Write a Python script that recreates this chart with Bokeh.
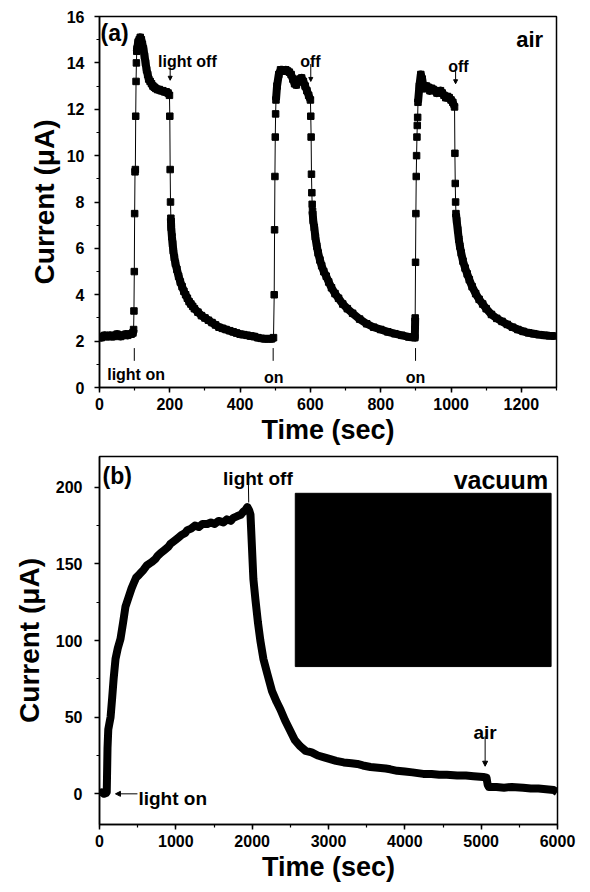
from bokeh.plotting import figure
from bokeh.models import Range1d, SingleIntervalTicker, Label, Arrow, NormalHead, ColumnDataSource
from bokeh.layouts import column
from bokeh.embed import file_html
from bokeh.resources import INLINE

# ---------------- Panel (a): air ----------------
time_a = [0, 5, 10, 15, 20, 25, 30, 35, 40, 45, 50, 55, 60, 65, 70, 75, 80, 85, 90, 95,
          97, 98, 99, 100, 101, 102, 103, 104, 105, 106,
          107, 110, 113, 116, 119, 122, 125, 128, 131, 134, 137, 140, 144, 148, 152, 156, 160,
          165, 170, 175, 180, 185, 190, 195, 199,
          200, 201, 202, 203, 204, 206, 208, 210, 213, 216, 220, 225, 230, 235, 240, 245, 250,
          255, 260, 265, 270, 280, 290, 300, 310, 320, 330, 340, 350, 360, 370, 380, 390, 400,
          410, 420, 430, 440, 450, 460, 470, 480, 490, 495,
          497, 498, 499, 500, 501, 502,
          505, 510, 515, 520, 525, 530, 535, 540, 545, 550, 555, 560, 565, 570, 575, 580, 585,
          590, 595, 600,
          601, 602, 603, 604, 605, 606, 608, 611, 614, 618, 622, 627, 632, 638, 645, 652, 660,
          670, 680, 692, 705, 720, 740, 760, 780, 800, 820, 840, 860, 880, 897,
          898, 899, 900, 901, 902, 903, 904, 905, 906,
          910, 914, 918, 922, 926, 930, 935, 940, 945, 950, 955, 960, 965, 970, 975, 980, 985,
          990, 995, 1000, 1005, 1010,
          1011, 1012, 1013, 1014, 1016, 1019, 1022, 1025, 1029, 1034, 1040, 1046, 1052, 1060,
          1070, 1080, 1090, 1100, 1115, 1130, 1145, 1160, 1175, 1190, 1205, 1220, 1235, 1250,
          1265, 1280, 1295]
current_a = [2.2, 2.15, 2.2, 2.25, 2.2, 2.2, 2.25, 2.2, 2.2, 2.25, 2.3, 2.25, 2.2, 2.25, 2.25, 2.3, 2.25, 2.3, 2.3, 2.35,
             2.5, 3.3, 5.0, 7.5, 9.3, 9.4, 11.7, 13.2, 14.0, 14.5,
             14.6, 14.9, 15.0, 15.1, 15.0, 14.8, 14.6, 14.3, 14.0, 13.7, 13.5, 13.3, 13.2, 13.1, 13.0, 12.95, 12.9,
             12.85, 12.85, 12.8, 12.8, 12.75, 12.75, 12.7, 12.6,
             11.7, 9.4, 8.0, 7.3, 6.9, 6.5, 6.2, 5.9, 5.6, 5.35, 5.1, 4.8, 4.55, 4.35, 4.15, 4.0, 3.85,
             3.7, 3.6, 3.5, 3.4, 3.25, 3.1, 3.0, 2.9, 2.8, 2.7, 2.6, 2.55, 2.5, 2.45, 2.4, 2.35, 2.3,
             2.28, 2.25, 2.22, 2.2, 2.15, 2.12, 2.1, 2.1, 2.1, 2.15,
             4.0, 6.8, 9.1, 10.8, 11.8, 12.4,
             13.0, 13.5, 13.7, 13.7, 13.65, 13.7, 13.65, 13.6, 13.5, 13.3, 13.1, 13.05, 13.2, 13.3, 13.35, 13.2, 13.0,
             12.8, 12.6, 12.4,
             11.7, 10.8, 9.2, 8.4, 7.9, 7.6, 7.2, 6.9, 6.5, 6.1, 5.8, 5.5, 5.25, 5.0, 4.8, 4.55, 4.3,
             4.05, 3.85, 3.6, 3.4, 3.2, 2.95, 2.75, 2.6, 2.5, 2.4, 2.32, 2.25, 2.18, 2.15,
             3.0, 5.4, 7.5, 9.1, 10.0, 10.8, 11.3, 11.65, 12.3,
             13.0, 13.5, 13.3, 12.9, 12.9, 13.0, 12.95, 12.8, 12.9, 12.85, 12.8, 12.7, 12.75, 12.8, 12.7, 12.6, 12.5,
             12.55, 12.5, 12.4, 12.3, 12.1,
             10.1, 8.8, 8.0, 7.5, 7.2, 6.8, 6.4, 6.1, 5.8, 5.45, 5.15, 4.9, 4.65, 4.35,
             4.05, 3.8, 3.6, 3.4, 3.15, 2.98, 2.85, 2.72, 2.6, 2.5, 2.42, 2.36, 2.32, 2.28,
             2.25, 2.23, 2.22]
# time windows where the instrument sampled densely (points merge into a band)
dense_windows_a = [(0, 97), (106, 199), (203, 496), (502, 600), (606, 898), (906, 1010), (1014, 1300)]

# ---------------- Panel (b): vacuum ----------------
time_b = [0, 30, 60, 85, 95, 105, 115, 130, 145, 165, 185, 210, 240, 275, 310, 340, 380, 420, 445,
          480, 520, 576, 620, 680, 730, 759, 800, 850, 900, 929, 980, 1030, 1080, 1120, 1152, 1200,
          1250, 1300, 1350, 1413, 1460, 1510, 1560, 1623, 1670, 1720, 1754, 1800, 1850, 1885, 1910,
          1937, 1960, 1978, 2016, 2042, 2075, 2107, 2147, 2200, 2260, 2320, 2370, 2430, 2500, 2560,
          2630, 2700, 2780, 2860, 2932, 3000, 3100, 3200, 3300, 3377, 3450, 3550, 3650, 3750, 3809,
          3900, 4000, 4100, 4241, 4350, 4450, 4550, 4686, 4800, 4900, 5026, 5070, 5085, 5100, 5200,
          5300, 5400, 5550, 5650, 5750, 5850, 5950, 5995]
current_b = [0, 1, 0, 0.5, 1, 30, 42, 46, 50, 62, 75, 88, 95, 101, 112, 122, 128, 134, 137,
             141, 143, 146, 149, 151, 153, 155, 157, 159, 161, 163, 165, 167, 169, 170, 172, 173,
             175, 174, 176, 176, 177, 176, 178, 177, 179, 178, 180, 181, 182, 184, 185,
             187, 185, 182, 140, 127, 112, 100, 88, 78, 67, 60, 55, 48, 41, 35,
             31, 28, 27, 25, 24, 23, 21.5, 20.5, 20, 19.5, 18.5, 17.5, 17, 16.5, 16,
             15, 14.5, 14, 13, 13, 12.5, 12.5, 12, 12, 11.5, 11, 10.5, 6, 4.5, 4.5,
             4, 4.5, 4, 3.5, 3.5, 3, 2.5, 1]

# inset picture (black) extents in data units of panel (b)
inset_left = [2565]
inset_right = [5916]
inset_bottom = [83]
inset_top = [196]

FONT = "Liberation Sans"


def style_axes(p, xint, yint, ylab_standoff, ylabel_standoff):
    for ax in (p.xaxis[0], p.yaxis[0]):
        ax.axis_line_width = 1.5
        ax.axis_line_color = "black"
        ax.major_tick_line_width = 1.5
        ax.minor_tick_line_width = 1.2
        ax.major_tick_in = 0
        ax.major_tick_out = 5
        ax.minor_tick_in = 0
        ax.minor_tick_out = 3
        ax.major_label_text_font = FONT
        ax.major_label_text_font_style = "bold"
        ax.major_label_text_font_size = "16px"
        ax.major_label_text_color = "black"
        ax.axis_label_text_font = FONT
        ax.axis_label_text_font_style = "bold"
        ax.axis_label_text_color = "black"
    p.xaxis[0].ticker = SingleIntervalTicker(interval=xint, num_minor_ticks=2)
    p.yaxis[0].ticker = SingleIntervalTicker(interval=yint, num_minor_ticks=2)
    p.xaxis[0].axis_label_text_font_size = "27px"
    p.yaxis[0].axis_label_text_font_size = "28px"
    p.xaxis[0].major_label_standoff = 5
    p.xaxis[0].axis_label_standoff = 2
    p.yaxis[0].major_label_standoff = ylab_standoff
    p.yaxis[0].axis_label_standoff = ylabel_standoff
    p.xgrid.visible = False
    p.ygrid.visible = False
    p.outline_line_color = "black"
    p.outline_line_width = 1.5
    p.background_fill_color = "white"
    p.border_fill_color = "white"


def lab(p, x, y, text, size, align="left", baseline="alphabetic"):
    p.add_layout(Label(x=x, y=y, text=text, text_font=FONT, text_font_style="bold",
                       text_font_size=size, text_align=align, text_baseline=baseline,
                       text_color="black"))


def arrow(p, x0, y0, x1, y1, head=True, size=5):
    p.add_layout(Arrow(x_start=x0, y_start=y0, x_end=x1, y_end=y1, line_width=1, line_color="black",
                       end=NormalHead(size=size, fill_color="black", line_color="black") if head else None))


# ---------- figure (a) ----------
p1 = figure(output_backend="svg", toolbar_location=None,
            frame_width=457, frame_height=371,
            min_border_left=96, min_border_right=29, min_border_top=16, min_border_bottom=63,
            x_range=Range1d(0, 1300), y_range=Range1d(0, 16),
            x_axis_label="Time (sec)", y_axis_label="Current (\u03bcA)")
style_axes(p1, 200, 2, 10, 4)

src_a = ColumnDataSource(dict(t=time_a, i=current_a))
p1.line("t", "i", source=src_a, line_color="black", line_width=1)
for (t0, t1) in dense_windows_a:
    seg_t = [t for t in time_a if t0 <= t <= t1]
    seg_i = [c for t, c in zip(time_a, current_a) if t0 <= t <= t1]
    p1.line(seg_t, seg_i, line_color="black", line_width=8, line_join="round")
p1.scatter("t", "i", source=src_a, marker="square", size=6.5, fill_color="black", line_color="black")

lab(p1, 3, 15.85, "(a)", "23px", baseline="top")
lab(p1, 1262, 15.0, "air", "22px", align="right")
lab(p1, 250, 14.05, "light off", "16px", align="center")
arrow(p1, 201, 13.8, 201, 13.25, size=4)
lab(p1, 600, 14.05, "off", "16px", align="center")
arrow(p1, 601, 13.95, 601, 13.2, size=4)
lab(p1, 1021, 13.85, "off", "16px", align="center")
arrow(p1, 1013, 13.72, 1013, 13.1, size=4)
lab(p1, 104, 0.55, "light on", "16px", align="center")
arrow(p1, 99, 1.7, 99, 1.15, head=False)
lab(p1, 496, 0.45, "on", "16px", align="center")
arrow(p1, 494, 1.7, 494, 1.15, head=False)
lab(p1, 899, 0.45, "on", "16px", align="center")
arrow(p1, 899, 1.7, 899, 1.15, head=False)

# ---------- figure (b) ----------
p2 = figure(output_backend="svg", toolbar_location=None,
            frame_width=458, frame_height=368,
            min_border_left=99, min_border_right=25, min_border_top=6, min_border_bottom=60,
            x_range=Range1d(0, 6000), y_range=Range1d(-20, 220),
            x_axis_label="Time (sec)", y_axis_label="Current (\u03bcA)")
style_axes(p2, 1000, 50, 12, 8)

p2.quad(left=inset_left, right=inset_right, bottom=inset_bottom, top=inset_top,
        fill_color="black", line_color="black")
src_b = ColumnDataSource(dict(t=time_b, i=current_b))
p2.line("t", "i", source=src_b, line_color="black", line_width=8, line_join="round")

lab(p2, 39, 216, "(b)", "23px", baseline="top")
lab(p2, 2075, 205.5, "light off", "19px", align="center")
arrow(p2, 1950, 204, 1955, 190, head=False)
lab(p2, 5877, 204.5, "vacuum", "25px", align="right")
lab(p2, 5052, 40, "air", "19px", align="center")
arrow(p2, 5052, 37.5, 5052, 18, size=5)
lab(p2, 510, -3, "light on", "19px", align="left")
arrow(p2, 497, 0, 209, 0, size=5)

layout = column(p1, p2, spacing=0)
open("out.html", "w").write(file_html(layout, INLINE))
